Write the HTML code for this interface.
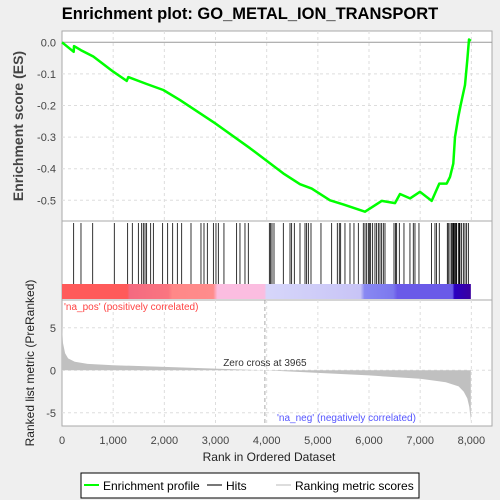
<!DOCTYPE html>
<html><head><meta charset="utf-8"><style>
body{margin:0;background:#efefef;font-family:"Liberation Sans",sans-serif}
svg{display:block}
</style></head><body>
<svg id="c" width="500" height="500" xmlns="http://www.w3.org/2000/svg">
<rect x="0" y="0" width="500" height="500" fill="#efefef"/>
<text x="250" y="19" text-anchor="middle" font-size="16.5" font-weight="bold" fill="#000">Enrichment plot: GO_METAL_ION_TRANSPORT</text>
<g id="topg"></g><g id="hitsg"></g><g id="botg"></g>
<text transform="translate(23,126) rotate(-90)" text-anchor="middle" font-size="14" font-weight="bold" fill="#444">Enrichment score (ES)</text>
<text transform="translate(34,363) rotate(-90)" text-anchor="middle" font-size="12" fill="#222">Ranked list metric (PreRanked)</text>
<text x="269" y="461" text-anchor="middle" font-size="12" fill="#222">Rank in Ordered Dataset</text>
<g>
<rect x="81" y="473" width="338" height="25" fill="#fff" stroke="#000"/>
<line x1="84" y1="485" x2="99" y2="485" stroke="#00ff00" stroke-width="2"/>
<text x="103" y="490" font-size="12" fill="#000">Enrichment profile</text>
<line x1="207" y1="485" x2="222" y2="485" stroke="#777" stroke-width="2"/>
<text x="226" y="490" font-size="12" fill="#000">Hits</text>
<line x1="276" y1="485" x2="291" y2="485" stroke="#ddd" stroke-width="2"/>
<text x="295" y="490" font-size="12" fill="#000">Ranking metric scores</text>
</g>
</svg>
<script>
const esRanks=[0,228,234,371,612,1003,1264,1296,1655,1980,2306,2990,3674,4325,4651,4879,5237,5497,5921,6247,6507,6605,6801,6996,7225,7373,7518,7582,7647,7680,7745,7791,7875,7921,7954,7990];
const esValues=[0,-0.03,-0.012,-0.025,-0.045,-0.093,-0.122,-0.11,-0.132,-0.151,-0.183,-0.256,-0.335,-0.415,-0.449,-0.463,-0.5,-0.513,-0.536,-0.502,-0.509,-0.48,-0.494,-0.473,-0.502,-0.447,-0.447,-0.426,-0.384,-0.3,-0.236,-0.198,-0.135,-0.056,0.009,0.004];
const hitRanks=[228,371,600,1022,1283,1374,1492,1557,1589,1622,1654,1733,1785,1967,2065,2163,2254,2339,2521,2716,2775,2840,2958,3009,3055,3165,3413,3478,3576,3641,4052,4078,4104,4143,4325,4456,4488,4540,4651,4749,4781,4814,4866,5061,5270,5380,5419,5446,5530,5628,5706,5791,5888,5921,5954,5986,6006,6032,6071,6116,6149,6182,6214,6247,6279,6312,6488,6520,6540,6592,6683,6800,6865,6898,6976,7223,7289,7321,7373,7530,7549,7582,7614,7634,7647,7660,7680,7699,7712,7745,7764,7777,7810,7843,7875,7908,7941];
const metricRanks=[0,20,60,120,250,500,1000,2000,3000,3965,5000,6000,7000,7500,7750,7850,7920,7960,7990];
const metricValues=[5.2,3.2,2.0,1.4,1.0,0.75,0.6,0.4,0.2,0,-0.3,-0.6,-1.0,-1.4,-1.9,-2.5,-3.3,-4.3,-6.0];
const xTicks=[0,1000,2000,3000,4000,5000,6000,7000,8000];
const esTicks=[0,-0.1,-0.2,-0.3,-0.4,-0.5];
const metricTicks=[5,0,-5];
const zeroCross=3965;

const NS="http://www.w3.org/2000/svg";
const PL=62,PR=492;
const xs=r=>62+r*0.05117;
const ys=v=>42.3+(-v)*316;
const ym=v=>370.3-v*8.5;
function mk(p,t,a){const e=document.createElementNS(NS,t);for(const k in a)e.setAttribute(k,a[k]);p.appendChild(e);return e;}
const topG=document.getElementById('topg'),hitsG=document.getElementById('hitsg'),botG=document.getElementById('botg');
let rr=mk(topG,'rect',{x:PL,y:31,width:PR-PL,height:190,fill:'#fff',stroke:'#aaa'});

xTicks.forEach(t=>{if(t>0){const l=mk(topG,'line',{x1:xs(t),x2:xs(t),y1:31,y2:221,stroke:'#ddd','stroke-dasharray':'3,3'});}});
esTicks.forEach(t=>{const y=ys(t);
 const l=mk(topG,'line',{x1:PL,x2:PR,y1:y,y2:y,stroke:t===0?'#999':'#ddd','stroke-dasharray':t===0?'':'3,3'});
 
 const tx=mk(topG,'text',{x:56,y:y+4,'text-anchor':'end','font-size':11,fill:'#444'});tx.textContent=t.toFixed(1);
 });
const pts=esRanks.map((k,i)=>xs(k).toFixed(1)+','+ys(esValues[i]).toFixed(1)).join(' ');
const pl=mk(topG,'polyline',{points:pts,fill:'none',stroke:'#00ff00','stroke-width':2.5,'stroke-linejoin':'round'});

rr=mk(hitsG,'rect',{x:PL,y:221,width:PR-PL,height:79,fill:'#fff',stroke:'#aaa'});

hitRanks.forEach(h=>{const l=mk(hitsG,'line',{x1:xs(h),x2:xs(h),y1:223,y2:284,stroke:'#000','stroke-width':0.8});
 });
const defs=mk(hitsG,'defs',{});
const gr=mk(defs,'linearGradient',{id:'cb',x1:0,x2:1,y1:0,y2:0});
[[0,'#ff5a5a'],[0.16,'#ff5a5a'],[0.165,'#f46a80'],[0.26,'#fa7580'],[0.27,'#ff8888'],[0.37,'#ff8c8c'],[0.38,'#fbbde0'],[0.495,'#fbbde0'],[0.5,'#d6d6fa'],[0.73,'#c8c4f6'],[0.74,'#8888f2'],[0.81,'#7c78ee'],[0.82,'#6a5ae8'],[0.955,'#6a5ae8'],[0.96,'#2a00c0'],[1,'#3a00a0']].forEach(s=>mk(gr,'stop',{offset:s[0],'stop-color':s[1]}));
rr=mk(hitsG,'rect',{x:PL,y:284,width:xs(7990)-PL,height:15,fill:'url(#cb)'});

rr=mk(botG,'rect',{x:PL,y:300,width:PR-PL,height:126,fill:'#fff',stroke:'#aaa'});

xTicks.forEach(t=>{if(t>0){const l=mk(botG,'line',{x1:xs(t),x2:xs(t),y1:300,y2:426,stroke:'#ddd','stroke-dasharray':'3,3'});}
 const tx=mk(botG,'text',{x:xs(t),y:444,'text-anchor':'middle','font-size':11,fill:'#444'});tx.textContent=t.toLocaleString('en-US');
 });
metricTicks.forEach(t=>{const y=ym(t);
 const l=mk(botG,'line',{x1:PL,x2:PR,y1:y,y2:y,stroke:'#ddd','stroke-dasharray':'3,3'});
 const tx=mk(botG,'text',{x:56,y:y+4,'text-anchor':'end','font-size':11,fill:'#444'});tx.textContent=t;
 });
let d='M'+xs(0)+','+ym(0);
metricRanks.forEach((k,i)=>{d+=' L'+xs(k).toFixed(1)+','+ym(metricValues[i]).toFixed(1);});
d+=' L'+xs(metricRanks[metricRanks.length-1]).toFixed(1)+','+ym(0)+' Z';
const ar=mk(botG,'path',{d:d,fill:'#c0c0c0'});

const zl=mk(botG,'line',{x1:xs(zeroCross),x2:xs(zeroCross),y1:300,y2:426,stroke:'#aaa','stroke-dasharray':'4,3'});

let tt=mk(botG,'text',{x:xs(zeroCross),y:366,'text-anchor':'middle','font-size':10,fill:'#333'});tt.textContent='Zero cross at '+zeroCross;

tt=mk(botG,'text',{x:64,y:310,'font-size':10,fill:'#ff4444'});tt.textContent="'na_pos' (positively correlated)";

tt=mk(botG,'text',{x:277,y:421,'font-size':10,fill:'#5555ff'});tt.textContent="'na_neg' (negatively correlated)";

</script>
</body></html>
